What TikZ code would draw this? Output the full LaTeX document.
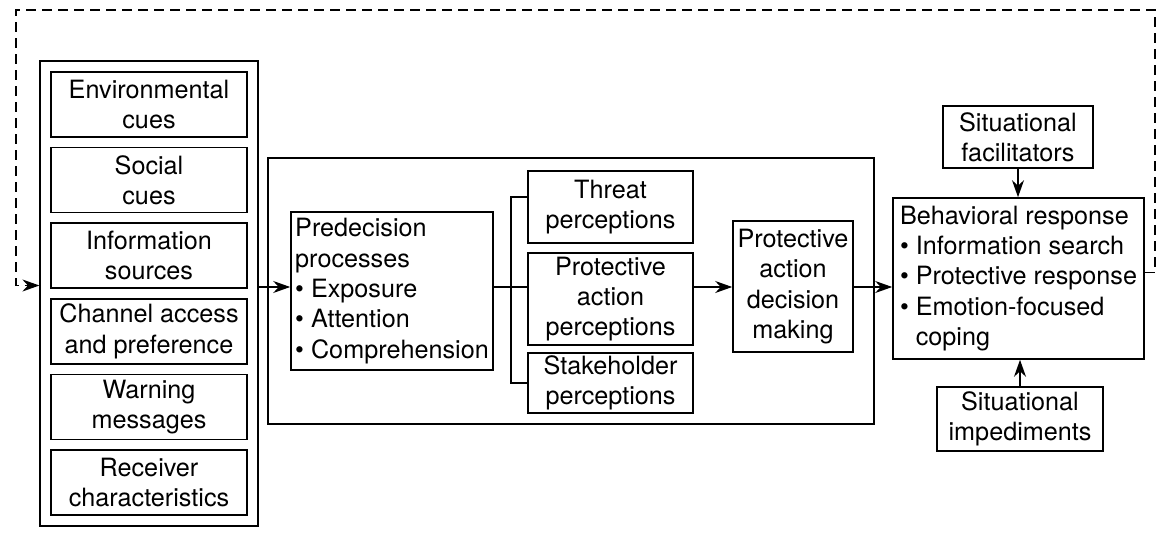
\documentclass[tikz,border=0pt]{standalone}
\usepackage{fontspec}
\setmainfont{TeX Gyre Heros}
\usetikzlibrary{positioning,fit,arrows.meta}

\begin{document}
\begin{tikzpicture}[x=0.5pt,y=-0.5pt,font=\fontsize{12.6}{15.2}\selectfont,line width=0.8pt,>={Stealth[length=8.5pt,width=6pt]}]
            \tikzstyle{plainbox}=[draw,rectangle,align=center,inner sep=1pt]
            \tikzstyle{cuebox}=[plainbox,minimum width=98pt,minimum height=32.5pt]
            \tikzstyle{listbox}=[plainbox,align=left]
            \tikzstyle{flow}=[->]
            \tikzstyle{feedback}=[->,dash pattern=on 5pt off 3pt]
            \useasboundingbox (0,0) rectangle (1157,540);
            % cues column
            \node(env)[cuebox] at (149,104.5){Environmental\\cues};
            \node(social)[cuebox,below=4.5pt of env]{Social\\cues};
            \node(info)[cuebox,below=4.5pt of social]{Information\\sources};
            \node(channel)[cuebox,below=4.5pt of info]{Channel access\\and preference};
            \node(warning)[cuebox,below=4.5pt of channel]{Warning\\messages};
            \node(receiver)[cuebox,below=4.5pt of warning]{Receiver\\characteristics};
            \node(outer)[draw,fit=(env)(receiver),inner sep=5pt]{};
            % perception block
            \node(middle)[draw,minimum width=303pt,minimum height=133pt] at (571,291){};
            \node(predec)[listbox,minimum width=101pt,minimum height=79pt] at (392,291){Predecision\\processes\\• Exposure\\• Attention\\• Comprehension};
            \node(threat)[plainbox,minimum width=82.5pt,minimum height=36pt] at (610.5,207){Threat\\perceptions};
            \node(protperc)[plainbox,minimum width=82.5pt,minimum height=46pt] at (610.5,299){Protective\\action\\perceptions};
            \node(stake)[plainbox,minimum width=82.5pt,minimum height=30pt] at (610.5,383){Stakeholder\\perceptions};
            \node(padm)[plainbox,minimum width=60pt,minimum height=65.5pt] at (793,286.5){Protective\\action\\decision\\making};
            % response
            \node(behav)[listbox,minimum width=125.5pt,minimum height=80.5pt] at (1018.5,278.5){Behavioral response\\• Information search\\• Protective response\\• Emotion-focused\\\phantom{• }coping};
            \node(facil)[plainbox,minimum width=75pt,minimum height=31pt] at (1018,137){Situational\\facilitators};
            \node(imped)[plainbox,minimum width=83pt,minimum height=32pt] at (1020,419){Situational\\impediments};
            % connectors
            \coordinate(mainline) at (0,287);
            \coordinate(split) at (511,287);
            \draw[flow] (outer.east |- mainline) -- (predec.west |- mainline);
            \draw (predec.east |- mainline) -- (protperc.west |- mainline);
            \draw ([yshift=5pt]threat.west) -| (split) |- (stake.west);
            \draw[flow] (protperc.east |- mainline) -- (padm.west |- mainline);
            \draw[flow] (padm.east |- mainline) -- (behav.west |- mainline);
            \draw[flow] (facil.south) -- (behav.north -| facil.south);
            \draw[flow] (imped.north) -- (behav.south -| imped.north);
            % feedback loop
            \coordinate(loopright) at (1155,10);
            \coordinate(loopleft) at (16,10);
            \draw[feedback] ([yshift=3pt]behav.east) -| (loopright) -- (loopleft) |- ([yshift=4pt]outer.west);
          \end{tikzpicture}
\end{document}
